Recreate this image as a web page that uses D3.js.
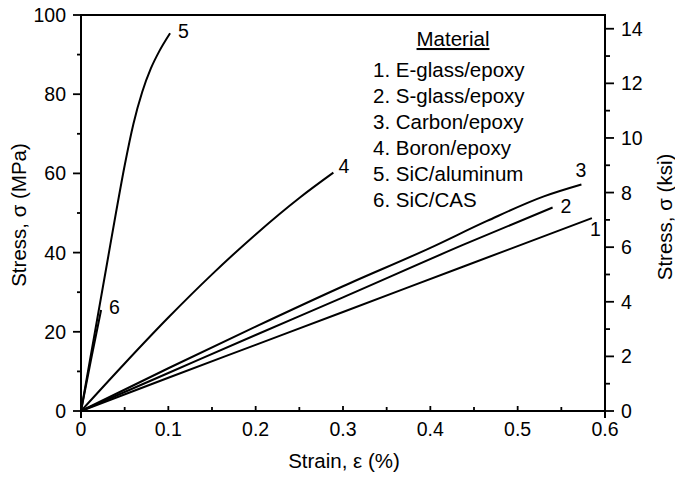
<!DOCTYPE html>
<html>
<head>
<meta charset="utf-8">
<script src="https://cdn.jsdelivr.net/npm/d3@7"></script>
<style>
  body { margin: 0; background: #fff; }
  svg text { font-family: "Liberation Sans", Arial, Helvetica, sans-serif; fill: #000; }
</style>
</head>
<body>
<div id="chart"></div>
<script>
// Stress-strain curves, strain in %, stress in MPa
const materials = ["E-glass/epoxy", "S-glass/epoxy", "Carbon/epoxy", "Boron/epoxy", "SiC/aluminum", "SiC/CAS"];

const eglass = [[0, 0], [0.1, 8.4], [0.2, 16.7], [0.3, 25], [0.438, 36.5], [0.585, 48.7]];
const sglass = [[0, 0], [0.1, 9.6], [0.2, 19.2], [0.3, 28.7], [0.438, 42], [0.54, 51.4]];
const carbon = [[0, 0], [0.1, 10.8], [0.2, 21.3], [0.3, 31.5], [0.4, 41.2], [0.465, 48], [0.53, 54.2], [0.573, 57.2]];
const boron = [[0, 0], [0.05, 12], [0.1, 23.6], [0.15, 34.5], [0.2, 44.6], [0.25, 53.8], [0.289, 60.2]];
const sicAl = [[0, 0], [0.01, 12.5], [0.02, 25], [0.03, 37.5], [0.04, 50], [0.05, 62], [0.06, 72.5], [0.07, 80.5], [0.08, 86.5], [0.09, 91], [0.102, 95.4]];
const sicCas = [[0, 0], [0.0115, 13], [0.023, 25.5]];

const xTicks = [0, 0.1, 0.2, 0.3, 0.4, 0.5, 0.6];
const yTicks = [0, 20, 40, 60, 80, 100];
const ksiTicks = [0, 2, 4, 6, 8, 10, 12, 14];
const MPA_PER_KSI = 6.895;

const width = 675, height = 482;
const margin = { top: 15, right: 70, bottom: 71, left: 81 };

const svg = d3.select("#chart").append("svg")
  .attr("width", width)
  .attr("height", height);

const x = d3.scaleLinear().domain([0, 0.6]).range([margin.left, width - margin.right]);
const y = d3.scaleLinear().domain([0, 100]).range([height - margin.bottom, margin.top]);
const yKsi = d3.scaleLinear().domain([0, 100 / MPA_PER_KSI]).range(y.range());

const x0 = x(0), x1 = x(0.6), yb = y(0), yt = y(100);

// frame
svg.append("path")
  .attr("d", `M${x0},${yb + 7}V${yt}H${x1}V${yb + 7}M${x0},${yb}H${x1}`)
  .attr("fill", "none")
  .attr("stroke", "#000")
  .attr("stroke-width", 2);

const ticks = svg.append("g").attr("stroke", "#000").attr("stroke-width", 1.8);

// left axis ticks (outward)
d3.range(0, 101, 10).forEach(v => {
  const major = v % 20 === 0;
  ticks.append("line").attr("x1", x0 - (major ? 8 : 4)).attr("x2", x0)
    .attr("y1", y(v)).attr("y2", y(v));
});
// right axis ticks (outward)
d3.range(0, 15, 1).forEach(v => {
  const major = v % 2 === 0;
  ticks.append("line").attr("x1", x1).attr("x2", x1 + (major ? 9 : 5))
    .attr("y1", yKsi(v)).attr("y2", yKsi(v));
});
// bottom ticks (inward)
d3.range(1, 12, 1).forEach(i => {
  const v = i * 0.05;
  const major = i % 2 === 0;
  ticks.append("line").attr("x1", x(v)).attr("x2", x(v))
    .attr("y1", yb).attr("y2", yb - (major ? 5 : 4));
});

// tick labels
svg.append("g").selectAll("text").data(yTicks).join("text")
  .attr("x", x0 - 15).attr("y", d => y(d) + 7)
  .attr("text-anchor", "end").attr("font-size", 19.5)
  .text(d => d);

svg.append("g").selectAll("text").data(ksiTicks).join("text")
  .attr("x", x1 + 16).attr("y", d => yKsi(d) + 7)
  .attr("font-size", 19.5)
  .text(d => d);

svg.append("g").selectAll("text").data(xTicks).join("text")
  .attr("x", d => x(d)).attr("y", yb + 25)
  .attr("text-anchor", "middle").attr("font-size", 19.5)
  .text(d => d === 0 ? "0" : d.toFixed(1));

// axis titles
svg.append("text")
  .attr("transform", `translate(26,${(yb + yt) / 2 + 2}) rotate(-90)`)
  .attr("text-anchor", "middle").attr("font-size", 20.5)
  .text("Stress, σ (MPa)");

svg.append("text")
  .attr("transform", `translate(672,${(yb + yt) / 2 + 4}) rotate(-90)`)
  .attr("text-anchor", "middle").attr("font-size", 20.5)
  .text("Stress, σ (ksi)");

svg.append("text")
  .attr("x", (x0 + x1) / 2 + 1).attr("y", 468)
  .attr("text-anchor", "middle").attr("font-size", 20.5)
  .text("Strain, ε (%)");

// curves
const series = [eglass, sglass, carbon, boron, sicAl, sicCas];
const labelOffset = [[-2, 18], [8, 6], [-6, -7], [5, 0], [8, 5], [8, 4]];

const line = d3.line()
  .x(d => x(d[0]))
  .y(d => y(d[1]))
  .curve(d3.curveMonotoneX);

svg.append("g").selectAll("path").data(series).join("path")
  .attr("d", line)
  .attr("fill", "none")
  .attr("stroke", "#000")
  .attr("stroke-width", 2)
  .attr("stroke-linejoin", "round");

svg.append("g").selectAll("text").data(series).join("text")
  .attr("x", (d, i) => x(d[d.length - 1][0]) + labelOffset[i][0])
  .attr("y", (d, i) => y(d[d.length - 1][1]) + labelOffset[i][1])
  .attr("font-size", 19.5)
  .text((d, i) => i + 1);

// legend
const legend = svg.append("g");
legend.append("text")
  .attr("x", 453).attr("y", 46)
  .attr("text-anchor", "middle").attr("font-size", 20.5)
  .attr("text-decoration", "underline")
  .text("Material");

legend.selectAll("text.item").data(materials).join("text")
  .attr("class", "item")
  .attr("x", 373).attr("y", (d, i) => 77 + i * 26)
  .attr("font-size", 20.5)
  .text((d, i) => `${i + 1}. ${d}`);
</script>
</body>
</html>
